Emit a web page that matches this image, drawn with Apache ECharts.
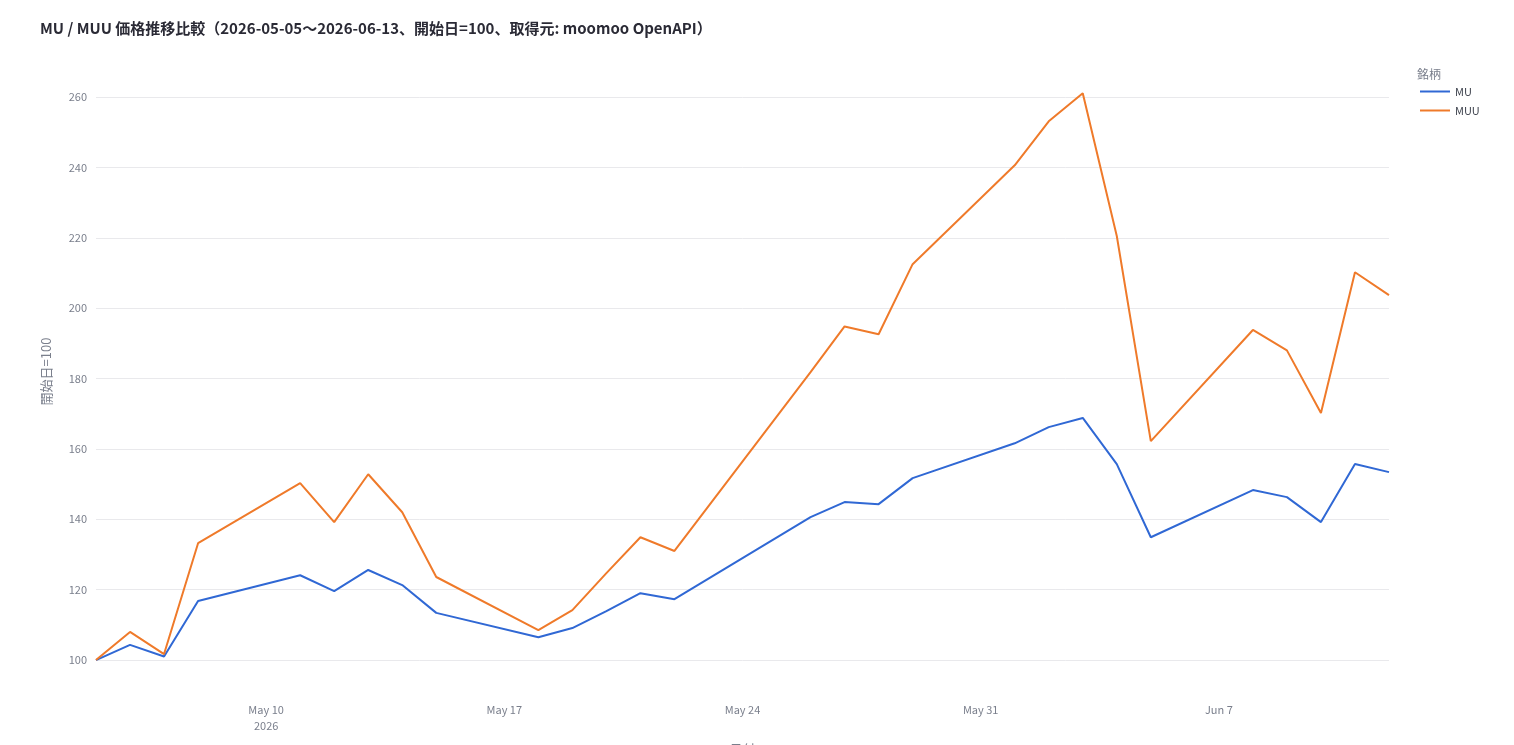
<!DOCTYPE html>
<html>
<head>
<meta charset="utf-8">
<title>MU / MUU</title>
<script src="https://cdn.jsdelivr.net/npm/echarts@6/dist/echarts.min.js"></script>
<style>
  html, body { margin: 0; padding: 0; background: #fff; }
  #main { width: 1514px; height: 745px; }
</style>
</head>
<body>
<div id="main"></div>
<script>
//----- data (start date = 100)
var dates = ['2026-05-05', '2026-05-06', '2026-05-07', '2026-05-08',
    '2026-05-11', '2026-05-12', '2026-05-13', '2026-05-14', '2026-05-15',
    '2026-05-18', '2026-05-19', '2026-05-20', '2026-05-21', '2026-05-22',
    '2026-05-26', '2026-05-27', '2026-05-28', '2026-05-29',
    '2026-06-01', '2026-06-02', '2026-06-03', '2026-06-04', '2026-06-05',
    '2026-06-08', '2026-06-09', '2026-06-10', '2026-06-11', '2026-06-12'];
var mu = [100, 104.3, 101, 116.8,
    124.1, 119.6, 125.6, 121.3, 113.4,
    106.5, 109.1, 113.9, 119, 117.3,
    140.6, 144.9, 144.3, 151.7,
    161.6, 166.2, 168.8, 155.7, 134.9,
    148.3, 146.3, 139.2, 155.7, 153.4];
var muu = [100, 108, 101.7, 133.2,
    150.3, 139.2, 152.8, 142, 123.6,
    108.5, 114.2, 124.7, 134.9, 131,
    181.8, 194.8, 192.6, 212.5,
    240.6, 253.1, 261.1, 220.5, 162.2,
    193.8, 188, 170.2, 210.2, 203.7];
var xTicks = ['2026-05-10', '2026-05-17', '2026-05-24', '2026-05-31', '2026-06-07'];
var yTicks = [100, 120, 140, 160, 180, 200, 220, 240, 260];
var monthNames = ['Jan', 'Feb', 'Mar', 'Apr', 'May', 'Jun', 'Jul', 'Aug', 'Sep', 'Oct', 'Nov', 'Dec'];

function toTime(s) {
    var p = s.split('-');
    return new Date(+p[0], +p[1] - 1, +p[2]).getTime();
}

var font = '"Noto Sans CJK JP", "Noto Sans", sans-serif';
var xTickTimes = xTicks.map(toTime);

var myChart = echarts.init(document.getElementById('main'));
var option = {
    animation: false,
    backgroundColor: '#ffffff',
    textStyle: { fontFamily: font },
    title: [{
        text: 'MU / MUU 価格推移比較（2026-05-05〜2026-06-13、開始日=100、取得元: moomoo OpenAPI）',
        left: 35,
        top: 16,
        textStyle: { fontSize: 15, fontWeight: 'bold', color: '#2a2a35', fontFamily: font }
    }, {
        text: '銘柄',
        left: 1412,
        top: 63,
        textStyle: { fontSize: 12, fontWeight: 'normal', color: '#7a7f8c', fontFamily: font }
    }],
    legend: {
        orient: 'vertical',
        left: 1415,
        top: 81,
        itemWidth: 30,
        itemHeight: 2,
        itemGap: 8,
        icon: 'rect',
        textStyle: { fontSize: 11, color: '#3a3f4a', fontFamily: font },
        data: ['MU', 'MUU']
    },
    grid: { left: 96, right: 125, top: 54.8, bottom: 56.8, outerBoundsMode: 'none', containLabel: false },
    xAxis: {
        type: 'value',
        min: toTime(dates[0]),
        max: toTime(dates[dates.length - 1]),
        name: '日付',
        nameLocation: 'middle',
        nameGap: 54,
        nameTextStyle: { fontSize: 13, color: '#7a7f8c' },
        axisLine: { show: false },
        axisTick: { show: false, customValues: xTickTimes },
        splitLine: { show: false },
        axisLabel: {
            customValues: xTickTimes,
            margin: 14,
            fontSize: 11,
            color: '#7a7f8c',
            lineHeight: 16,
            formatter: function (v) {
                var d = new Date(v);
                var s = monthNames[d.getMonth()] + ' ' + d.getDate();
                if (v === xTickTimes[0]) s += '\n' + d.getFullYear();
                return s;
            }
        }
    },
    yAxis: {
        type: 'value',
        min: 92,
        max: 272,
        name: '開始日=100',
        nameLocation: 'middle',
        nameGap: 43,
        nameTextStyle: { fontSize: 13, color: '#7a7f8c' },
        axisLine: { show: false },
        axisTick: { show: false, customValues: yTicks },
        axisLabel: { customValues: yTicks, fontSize: 11, color: '#7a7f8c', margin: 9 },
        splitLine: { show: true, lineStyle: { color: '#e9e9ec', width: 1 } }
    },
    series: [{
        name: 'MU',
        type: 'line',
        showSymbol: false,
        symbol: 'none',
        color: '#3068d4',
        lineStyle: { width: 2, color: '#3068d4' },
        data: dates.map(function (d, i) { return [toTime(d), mu[i]]; })
    }, {
        name: 'MUU',
        type: 'line',
        showSymbol: false,
        symbol: 'none',
        color: '#ef7a2a',
        lineStyle: { width: 2, color: '#ef7a2a' },
        data: dates.map(function (d, i) { return [toTime(d), muu[i]]; })
    }]
};
myChart.setOption(option);
</script>
</body>
</html>
